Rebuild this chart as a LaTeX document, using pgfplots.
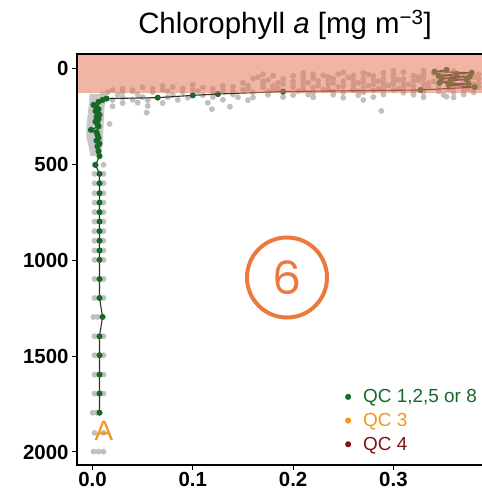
\documentclass[border=0pt]{standalone}
\usepackage{pgfplots}
\pgfplotsset{compat=1.18}
\usepackage{fontspec}
\setmainfont{Liberation Sans}
\newfontfamily\sixfont{Poppins}
\definecolor{qcgreen}{RGB}{24,105,40}
\definecolor{qcorange}{RGB}{243,150,30}
\definecolor{qcred}{RGB}{125,20,20}
\definecolor{ptgray}{RGB}{192,192,192}
\definecolor{bandgray}{RGB}{200,200,200}
\definecolor{salmon}{RGB}{230,120,90}
\definecolor{circ}{RGB}{236,122,62}
\definecolor{profline}{RGB}{50,50,50}

\pgfplotstableread{
x d
0.30 10
0.33 9
0.36 11
0.21 20
0.25 18
0.27 22
0.29 20
0.31 17
0.34 22
0.17 28
0.22 28
0.245 27
0.275 29
0.30 28
0.33 27
0.36 29
0.385 28
0.18 35
0.20 36
0.23 33
0.26 35
0.28 37
0.30 34
0.32 36
0.35 33
0.37 35
0.165 43
0.21 43
0.235 42
0.255 44
0.30 43
0.325 42
0.345 44
0.38 43
0.16 50
0.19 52
0.22 49
0.24 51
0.27 50
0.29 48
0.31 52
0.33 50
0.36 49
0.385 51
0.175 58
0.21 58
0.235 57
0.26 59
0.28 58
0.305 57
0.325 59
0.35 58
0.375 57
0.17 65
0.20 66
0.225 63
0.25 65
0.27 67
0.285 64
0.30 66
0.32 63
0.34 65
0.37 67
0.15 73
0.185 73
0.215 72
0.24 74
0.265 73
0.29 72
0.31 74
0.335 73
0.36 72
0.385 74
0.10 82
0.17 80
0.19 78
0.21 81
0.235 79
0.26 82
0.28 80
0.30 78
0.315 81
0.33 79
0.355 82
0.38 80
0.07 88
0.13 88
0.155 87
0.18 89
0.20 88
0.225 87
0.25 89
0.275 88
0.295 87
0.32 89
0.345 88
0.37 87
0.05 96
0.08 95
0.11 97
0.14 94
0.17 96
0.20 95
0.22 97
0.245 94
0.27 96
0.29 95
0.31 97
0.335 94
0.36 96
0.385 95
0.03 103
0.06 103
0.09 102
0.12 104
0.155 103
0.185 102
0.21 104
0.235 103
0.26 102
0.285 104
0.305 103
0.33 102
0.355 104
0.375 103
0.02 110
0.04 111
0.07 109
0.10 110
0.13 112
0.15 109
0.18 110
0.21 111
0.23 109
0.26 110
0.28 112
0.30 109
0.32 110
0.345 111
0.37 109
0.04 117
0.075 117
0.105 116
0.14 118
0.175 117
0.205 116
0.24 118
0.265 117
0.29 116
0.32 118
0.345 117
0.37 116
0.015 122
0.03 123
0.06 121
0.09 122
0.12 124
0.16 121
0.19 122
0.22 123
0.25 121
0.27 122
0.31 124
0.33 121
0.36 122
0.38 123
0.01 135
0.025 136
0.045 134
0.08 135
0.11 137
0.14 134
0.175 135
0.20 136
0.215 134
0.24 135
0.265 137
0.29 134
0.32 135
0.35 136
0.37 134
0.012 148
0.03 149
0.05 147
0.075 148
0.095 150
0.12 147
0.145 148
0.16 149
0.19 147
0.22 148
0.25 150
0.28 147
0.33 148
0.36 149
0.02 162
0.04 161
0.055 163
0.085 162
0.13 161
0.155 163
0.27 162
0.353 145
0.03 178
0.045 176
0.07 178
0.115 177
0.02 195
0.055 193
0.137 197
0.119 210
0.288 219
0.054 228
0.017 287
0.002 500
0.011 500
0.002 548
0.011 548
0.002 597
0.011 597
0.002 649
0.011 649
0.002 698
0.011 698
0.002 748
0.011 748
0.002 797
0.011 797
0.002 847
0.011 847
0.002 897
0.011 897
0.002 948
0.011 948
0.002 997
0.011 997
0.002 1097
0.011 1097
0.002 1196
0.011 1196
0.001 1295
0.005 1295
0.002 1396
0.011 1396
0.002 1495
0.011 1495
0.002 1596
0.011 1596
0.002 1695
0.011 1695
0.000 1795
0.004 1795
0.002 1900
0.011 1900
0.001 1998
0.006 1998
0.011 1998
}\graypts

\pgfplotstableread{
x d
0.353 5
0.341 14
0.378 20
0.363 26
0.345 35
0.376 40
0.348 49
0.373 55
0.357 62
0.346 72
0.375 78
0.355 84
0.381 95
0.327 110
0.19 118
0.125 131
0.10 138
0.065 150
0.014 155
0.010 162
0.006 172
0.001 188
0.004 200
0.006 210
0.003 220
0.005 230
0.007 240
0.004 250
0.006 262
0.003 275
0.005 288
0.006 300
-0.0015 318
0.004 330
0.005 345
0.006 360
0.004 375
0.007 390
0.005 405
0.006 430
0.007 455
0.003 501
0.007 548
0.007 597
0.007 649
0.007 698
0.007 748
0.007 797
0.007 847
0.007 897
0.007 948
0.007 997
0.007 1097
0.007 1196
0.010 1295
0.007 1396
0.007 1495
0.007 1596
0.007 1695
0.007 1795
}\profile

\begin{document}
\begin{tikzpicture}[x=1bp,y=1bp]
\begin{axis}[
  at={(0,0)}, anchor=south west,
  scale only axis, width=410bp, height=411bp,
  xmin=-0.01545, xmax=0.3933,
  ymin=-2068, ymax=78,
  y filter/.expression={-y},
  axis on top,
  clip marker paths=true,
  axis line style={line width=1.5bp},
  tick pos=left, tick align=outside,
  major tick length=5bp,
  tick style={line width=1bp, black},
  xtick={0,0.1,0.2,0.3}, xticklabels={0.0,0.1,0.2,0.3},
  ytick={-2000,-1500,-1000,-500,0}, yticklabels={2000,1500,1000,500,0},
  ticklabel style={font=\bfseries\fontsize{20.5}{24}\selectfont},
  xticklabel style={inner sep=0pt, anchor=base, yshift=-17bp, text depth=0pt},
  title={Chlorophyll \textit{a} [mg m\textsuperscript{−3}]},
  title style={at={(0.5,1)}, anchor=base, yshift=14.5bp, xshift=3bp, inner sep=0pt, font=\fontsize{29.5}{33}\selectfont},
  legend image code/.code={\path[draw=none,fill=none] (-3bp,0) -- (13bp,0); \draw[#1] plot coordinates {(0bp,0bp)};},
  legend style={draw=none, fill=none, at={(axis cs:0.2497,-1652)}, anchor=north west,
    font=\fontsize{19}{21}\selectfont, row sep=5bp, inner sep=2bp},
  legend cell align=left,
]
% gray band near surface column
\addplot[fill=bandgray, draw=none, forget plot] coordinates {
 (-0.003,130) (0.015,130) (0.013,160) (0.012,200) (0.011,300) (0.010,400) (0.008,455)
 (-0.002,455) (-0.004,400) (-0.006,360) (-0.006,300) (-0.004,200) (-0.003,160)} -- cycle;
\addplot[only marks, mark=*, mark size=2.7pt, ptgray, forget plot] table[x=x,y=d] {\graypts};
\addplot[profline, line width=1.1bp, mark=*, mark size=2.5pt,
  mark options={qcgreen, fill=qcgreen}, forget plot] table[x=x,y=d] {\profile};
\fill[salmon, opacity=0.55] (axis cs:-0.01545,78) rectangle (axis cs:0.3933,-125);
\addlegendimage{only marks, mark=*, mark size=2.8pt, qcgreen}
\addlegendentry{\textcolor{qcgreen}{QC 1,2,5 or 8}}
\addlegendimage{only marks, mark=*, mark size=2.8pt, qcorange}
\addlegendentry{\textcolor{qcorange}{QC 3}}
\addlegendimage{only marks, mark=*, mark size=2.8pt, qcred}
\addlegendentry{\textcolor{qcred}{QC 4}}
\node[text=qcorange, font=\fontsize{28}{30}\selectfont, inner sep=0pt] at (axis cs:0.0115,-1890) {A};
\draw[circ, line width=4bp] (axis cs:0.1939,-1089) circle[radius=40bp];
\node[text=circ, font=\sixfont\fontsize{46}{50}\selectfont, inner sep=0pt] at (axis cs:0.1939,-1089) {6};
\end{axis}
\pgfresetboundingbox
\useasboundingbox (-77,-26) rectangle (405,465);
\end{tikzpicture}
\end{document}
